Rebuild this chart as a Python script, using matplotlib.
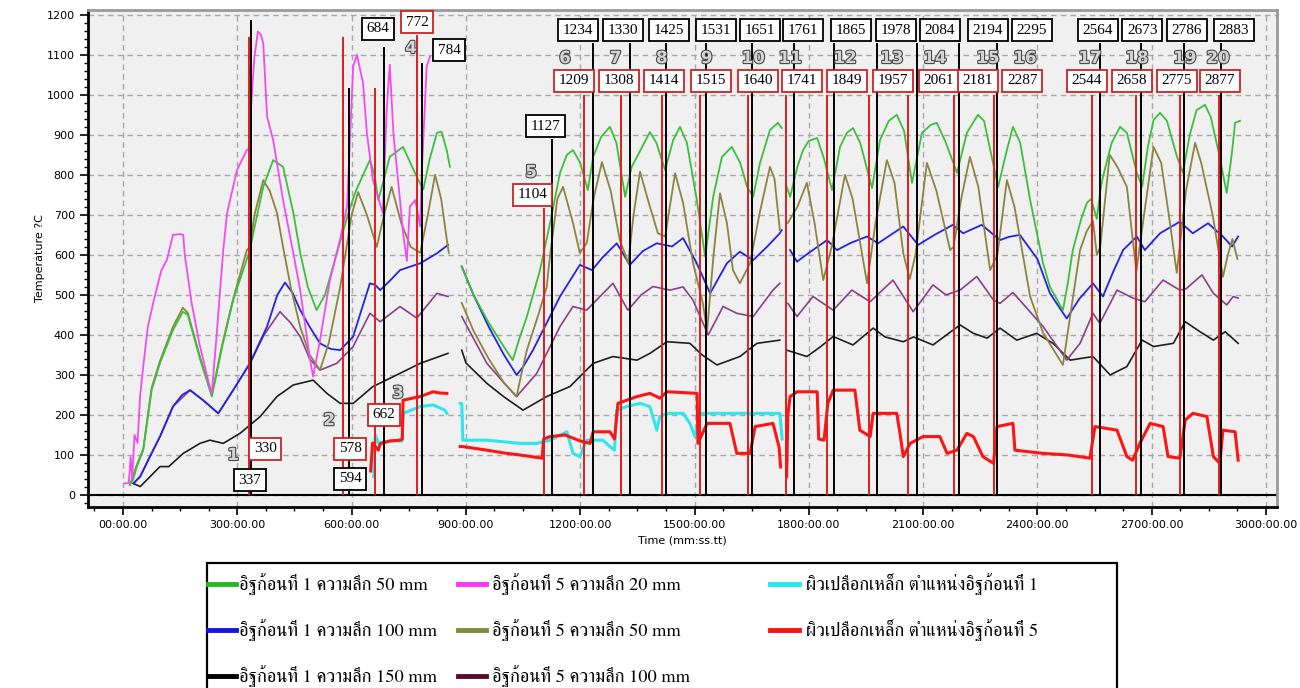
import numpy as np
import matplotlib
matplotlib.use("Agg")
import matplotlib.pyplot as plt
import matplotlib.patheffects as pe
from matplotlib import font_manager, ft2font
from matplotlib.lines import Line2D
from matplotlib.patches import Rectangle
from matplotlib.ticker import MultipleLocator

nan = np.nan

# ---------------- logged temperatures (time in s, temperature in °C) -------
# NaN separates the logging sessions.
green_t = [18, 27, 36, 53, 75, 97, 131, 157, 170, 202, 233, 260, 289, 333, 342, 368, 394, 420, 447, 465, 485,
           508, 530, 560, 590, 609, 630, 648, 660, 670, 685, 700, 735, 771, 788, 805, 824, 836, 850, 858, nan,
           889, 920, 960, 1000, 1023, 1040, 1060, 1094, 1121, 1147, 1165, 1181, 1200, 1220, 1234, 1255, 1278,
           1295, 1318, 1335, 1349, 1383, 1400, 1423, 1444, 1462, 1480, 1506, 1528, 1549, 1572, 1598, 1620,
           1638, 1654, 1672, 1698, 1719, 1729, nan,
           1742, 1751, 1770, 1785, 1800, 1822, 1840, 1861, 1882, 1900, 1916, 1935, 1966, 1987, 2010, 2031,
           2050, 2071, 2097, 2120, 2136, 2160, 2189, 2215, 2244, 2260, 2297, 2320, 2336, 2355, 2381, 2415,
           2433, 2467, 2480, 2493, 2515, 2530, 2541, 2556, 2565, 2572, 2595, 2617, 2635, 2661, 2675,
           2690, 2705, 2722, 2740, 2765, 2782, 2800, 2818, 2840, 2855, 2875, 2897, 2910, 2919, 2932]
green_v = [25, 40, 71, 112, 262, 330, 412, 458, 450, 340, 246, 370, 487, 612, 655, 770, 837, 820, 705, 605, 520,
           462, 500, 600, 700, 755, 800, 837, 800, 737, 790, 845, 870, 795, 763, 840, 905, 908, 860, 820, nan,
           571, 500, 430, 370, 337, 390, 446, 560, 680, 805, 850, 862, 830, 762, 845, 895, 920,
           880, 745, 820, 845, 907, 880, 812, 887, 920, 880, 737, 596, 745, 845, 870, 830,
           770, 745, 830, 912, 930, 917, nan,
           770, 745, 820, 862, 885, 892, 840, 762, 870, 905, 917, 880, 767, 887, 935, 950,
           910, 780, 905, 925, 930, 880, 805, 905, 950, 935, 770, 862, 920, 880, 737, 579,
           520, 462, 530, 612, 690, 730, 740, 690, 760, 795, 880, 920, 905, 805, 770,
           870, 937, 955, 935, 850, 805, 900, 962, 975, 945, 860, 755, 850, 930, 935]

blue_t = [27, 45, 70, 97, 131, 155, 176, 210, 250, 289, 333, 378, 405, 425, 445, 465, 490, 517, 545, 570, 604,
          625, 648, 662, 675, 700, 727, 780, 824, 853, nan,
          889, 920, 960, 1000, 1033, 1050, 1076, 1129, 1147, 1199, 1231, 1260, 1296, 1330, 1365, 1401, 1441,
          1470, 1506, 1541, 1585, 1619, 1654, 1690, 1724, 1729, nan,
          1751, 1769, 1800, 1848, 1874, 1910, 1953, 1982, 2015, 2048, 2087, 2130, 2178, 2205, 2254, 2302,
          2325, 2354, 2400, 2433, 2477, 2510, 2546, 2572, 2600, 2625, 2661, 2682, 2722, 2774, 2808, 2848,
          2887, 2911, 2927]
blue_v = [29, 46, 95, 146, 221, 250, 262, 237, 204, 262, 329, 421, 500, 531, 505, 462, 420, 379, 365, 362, 396,
          460, 529, 525, 512, 535, 562, 579, 604, 625, nan,
          571, 500, 420, 350, 300, 320, 362, 462, 496, 575, 562, 595, 629, 575, 610, 629, 621,
          642, 579, 504, 579, 608, 587, 620, 654, 662, nan,
          612, 583, 605, 637, 612, 630, 646, 629, 650, 671, 625, 650, 675, 654, 675, 637,
          645, 650, 590, 504, 441, 490, 529, 496, 560, 612, 646, 612, 654, 683, 654, 679,
          646, 621, 646]

black_t = [27, 45, 70, 97, 120, 158, 202, 228, 263, 307, 360, 404, 447, 499, 535, 570, 604, 656, 727, 780, 853, nan,
           889, 900, 955, 1000, 1050, 1112, 1173, 1234, 1286, 1349, 1383, 1428, 1488, 1520, 1559, 1619, 1664,
           1724, nan,
           1742, 1795, 1830, 1864, 1916, 1969, 2000, 2048, 2075, 2126, 2197, 2232, 2268, 2302, 2346, 2398,
           2441, 2486, 2546, 2591, 2635, 2675, 2705, 2757, 2788, 2827, 2862, 2893, 2927]
black_v = [29, 21, 45, 71, 71, 104, 129, 137, 129, 154, 196, 246, 275, 287, 254, 229, 229, 271, 304, 329, 354, nan,
           362, 330, 279, 245, 212, 246, 271, 329, 346, 337, 354, 383, 379, 350, 325, 346, 379,
           387, nan,
           362, 346, 370, 396, 375, 417, 395, 383, 395, 375, 425, 404, 392, 417, 387, 404,
           379, 337, 346, 300, 321, 387, 371, 379, 433, 408, 387, 408, 379]

magenta_t = [5, 15, 20, 24, 30, 38, 45, 53, 65, 79, 100, 115, 131, 150, 158, 162, 180, 200, 225, 233, 246, 263,
             273, 299, 325, 330, 338, 345, 354, 362, 368, 378, 394, 420, 447, 465, 491, 499, 517, 543, 570,
             588, 604, 614, 630, 640, 656, 682, 692, 700, 710, 727, 735, 745, 753, 767, 780, 784, 797, 806]
magenta_v = [29, 30, 95, 40, 150, 130, 250, 321, 420, 479, 560, 587, 650, 652, 650, 600, 480, 380, 280, 254, 404,
             612, 704, 812, 862, 865, 1000, 1096, 1158, 1150, 1129, 946, 887, 737, 604, 512, 337, 296, 387,
             537, 640, 721, 1071, 1100, 1029, 904, 787, 704, 962, 1075, 900, 737, 654, 585, 721, 737, 671,
             805, 1071, 1096]

olive_t = [18, 36, 53, 75, 97, 131, 157, 170, 202, 233, 260, 289, 325, 333, 345, 368, 385, 404, 420, 440, 465,
           490, 517, 540, 570, 600, 617, 640, 666, 685, 705, 730, 755, 780, 800, 819, 835, 850, 855, nan,
           889, 920, 960, 1000, 1033, 1045, 1060, 1090, 1112, 1121, 1140, 1155, 1181, 1199, 1217, 1235, 1257,
           1280, 1304, 1326, 1340, 1357, 1380, 1404, 1423, 1449, 1470, 1496, 1522, 1533, 1550, 1567, 1585,
           1601, 1619, 1646, 1670, 1698, 1710, 1724, nan,
           1745, 1770, 1795, 1815, 1838, 1860, 1895, 1915, 1953, 1975, 2005, 2025, 2048, 2065, 2080, 2110,
           2135, 2171, 2180, 2200, 2223, 2245, 2276, 2295, 2320, 2340, 2381, 2415, 2467, 2486,
           2512, 2530, 2546, 2556, 2565, 2590, 2610, 2635, 2650, 2660, 2680, 2705, 2725, 2745, 2766, 2790,
           2814, 2830, 2860, 2887, 2900, 2912, 2925]
olive_v = [25, 75, 115, 268, 335, 420, 468, 455, 345, 250, 375, 490, 612, 620, 700, 787, 760, 705, 620, 520, 420,
           350, 312, 380, 520, 700, 757, 700, 620, 700, 770, 680, 620, 605, 700, 800, 740, 637, 605, nan,
           480, 410, 340, 280, 246, 300, 362, 450, 520, 600, 740, 770, 680, 605, 629, 740, 832,
           760, 637, 580, 700, 808, 730, 654, 646, 804, 730, 580, 479, 410, 600, 754, 680,
           562, 529, 579, 700, 820, 790, 662, nan,
           680, 720, 780, 680, 537, 620, 800, 740, 529, 680, 837, 780, 604, 540, 600, 830,
           760, 612, 620, 740, 845, 770, 562, 600, 787, 720, 496, 405, 325, 446,
           612, 660, 685, 600, 620, 850, 820, 770, 640, 560, 700, 870, 830, 700, 555, 760,
           880, 830, 700, 545, 600, 640, 590]

purple_t = [27, 45, 70, 97, 131, 176, 210, 250, 289, 333, 370, 412, 440, 465, 490, 517, 561, 604, 648, 675, 727,
            771, 824, 853, nan,
            889, 955, 1000, 1033, 1086, 1147, 1181, 1217, 1260, 1286, 1325, 1360, 1391, 1436, 1470, 1496, 1536,
            1575, 1611, 1654, 1706, 1724, nan,
            1745, 1769, 1811, 1864, 1913, 1961, 2021, 2074, 2126, 2160, 2197, 2241, 2285, 2302, 2336, 2415,
            2477, 2512, 2546, 2564, 2609, 2651, 2682, 2730, 2774, 2790, 2832, 2862, 2897, 2914, 2927]
purple_v = [29, 46, 95, 146, 221, 262, 237, 204, 262, 329, 400, 458, 430, 396, 340, 312, 329, 371, 454, 433, 471,
            442, 504, 496, nan,
            446, 329, 280, 246, 304, 421, 471, 462, 504, 529, 462, 500, 521, 512, 520, 487, 400,
            471, 454, 446, 512, 529, nan,
            479, 446, 496, 462, 512, 483, 537, 458, 525, 500, 512, 546, 487, 479, 506, 421,
            337, 379, 454, 429, 512, 492, 483, 537, 512, 515, 550, 504, 475, 496, 492]

cyan_t = [658, 662, 670, 700, 733, 735, 780, 814, 845, 850, nan,
          885, 889, 892, 955, 1042, 1086, 1121, 1165, 1181, 1199, 1217, 1260, 1278, 1290, 1296, 1322, 1357,
          1383, 1401, 1409, 1428, 1470, 1488, 1501, 1514, 1575, 1650, 1724, 1730]
cyan_v = [46, 150, 130, 135, 135, 204, 221, 225, 212, 204, nan,
          229, 229, 137, 137, 129, 129, 137, 158, 104, 96, 137, 137, 121, 112, 212, 221, 229,
          221, 162, 196, 204, 204, 179, 146, 204, 204, 204, 204, 140]

red_t = [650, 655, 670, 675, 700, 727, 733, 735, 750, 780, 814, 830, 850, nan,
         885, 892, 955, 1000, 1042, 1100, 1104, 1121, 1160, 1200, 1226, 1234, 1278, 1290, 1299, 1349, 1383,
         1409, 1428, 1507, 1509, 1533, 1593, 1611, 1646, 1659, 1706, 1722, 1726, nan,
         1742, 1745, 1751, 1769, 1822, 1826, 1840, 1850, 1864, 1921, 1934, 1961, 1969, 2031, 2040, 2048,
         2066, 2100, 2144, 2163, 2189, 2215, 2232, 2257, 2285, 2294, 2336, 2341, 2415, 2480, 2538, 2551,
         2609, 2635, 2650, 2669, 2696, 2730, 2743, 2774, 2788, 2808, 2845, 2862, 2879, 2887, 2919, 2927]
red_v = [60, 130, 112, 128, 135, 137, 140, 237, 240, 246, 258, 255, 254, nan,
         121, 121, 112, 105, 100, 92, 140, 146, 150, 135, 129, 158, 158, 140, 229, 246, 254,
         242, 258, 254, 129, 179, 179, 104, 104, 171, 179, 120, 70, nan,
         46, 200, 246, 258, 258, 140, 137, 229, 262, 262, 162, 146, 204, 204, 150, 96,
         129, 146, 146, 104, 112, 154, 146, 96, 79, 171, 179, 112, 104, 100, 92, 171,
         162, 96, 87, 129, 179, 171, 96, 92, 187, 204, 196, 96, 79, 162, 158, 87]

# ---------------- event markers (s) -----------------------------------------
red_marks = [330, 578, 662, 772, 1104, 1209, 1308, 1414, 1515, 1640, 1741, 1849, 1957, 2061, 2181,
             2287, 2544, 2658, 2775, 2877]
black_marks = [337, 594, 684, 784, 1127, 1234, 1330, 1425, 1531, 1651, 1761, 1865, 1978, 2084, 2194,
               2295, 2564, 2673, 2786, 2883]
cycle_labels = [str(i) for i in range(1, 21)]

legend_labels = [
    "อิฐก้อนที่ 1 ความลึก 50 mm",
    "อิฐก้อนที่ 1 ความลึก 100 mm",
    "อิฐก้อนที่ 1 ความลึก 150 mm",
    "อิฐก้อนที่ 5 ความลึก 20 mm",
    "อิฐก้อนที่ 5 ความลึก 50 mm",
    "อิฐก้อนที่ 5 ความลึก 100 mm",
    "ผิวเปลือกเหล็ก ตำแหน่งอิฐก้อนที่ 1",
    "ผิวเปลือกเหล็ก ตำแหน่งอิฐก้อนที่ 5",
]
x_tick_values = list(range(0, 3001, 300))
x_tick_labels = ["00:00.00"] + [f"{v}:00.00" for v in x_tick_values[1:]]

# ---------------- layout of marker lines and their tags ----------------------
red_tops = [1145, 1145, 1017, 1150, 717] + [1000] * 15
black_tops = [1187, 1017, 1120, 1080, 890] + [1130] * 15
red_tag_pos = [(373, 115), (596, 115), (685, 200), (772, 1182), (1076, 750)] + \
    [(x, 1035) for x in [1184, 1302, 1420, 1543, 1667, 1782, 1900, 2021, 2142, 2244, 2360, 2530,
                         2648, 2766, 2879]]
black_tag_pos = [(333, 37), (596, 40), (669, 1165), (856, 1112), (1108, 922)] + \
    [(x, 1162) for x in [1194, 1312, 1433, 1556, 1672, 1785, 1911, 2029, 2144, 2270, 2386, 2559,
                         2675, 2793, 2916]]
cycle_pos = [(289, 100), (541, 187), (722, 255), (756, 1117), (1071, 807)] + \
    [(x, 1092) for x in [1160, 1293, 1414, 1532, 1654, 1751, 1895, 2018, 2131, 2270, 2367, 2538,
                         2661, 2787, 2874]]


def thai_family():
    """Name of an installed font covering Thai, preferring a serif design."""
    found = []
    for fe in font_manager.fontManager.ttflist:
        try:
            cmap = ft2font.FT2Font(fe.fname).get_charmap()
        except Exception:
            continue
        if 0x0E2D in cmap and 0x0E34 in cmap and 0x0E49 in cmap:
            found.append(fe.name)
    if not found:
        return None
    serif = [n for n in found if "Serif" in n or "Norasi" in n or "Sarabun" in n]
    return (serif or found)[0]


thai = thai_family()
legend_family = ([thai] if thai else []) + ["Liberation Serif", "DejaVu Sans"]

W, H = 1300, 688
fig = plt.figure(figsize=(W / 100, H / 100), dpi=100)
fig.patch.set_facecolor("white")
ax = fig.add_axes([88 / W, 1 - 507 / H, (1277 - 88) / W, (507 - 10) / H])
ax.set_facecolor("#f0f0f0")
ax.set_xlim(-92, 3029)
ax.set_ylim(-30, 1212)

# grid and ticks
ax.set_xticks(x_tick_values, x_tick_labels)
ax.xaxis.set_minor_locator(MultipleLocator(75))
ax.set_yticks(range(0, 1201, 100))
ax.yaxis.set_minor_locator(MultipleLocator(20))
ax.grid(True, which="major", color="#a8a8a8", linestyle=(0, (4, 3)), linewidth=1.0)
ax.set_axisbelow(True)
ax.tick_params(axis="both", which="major", length=6, width=1.2, labelsize=8, colors="black",
               direction="out")
ax.tick_params(axis="both", which="minor", length=3, width=1.0, direction="out")
for side in ("left", "bottom"):
    ax.spines[side].set_linewidth(2)
    ax.spines[side].set_color("black")
for side in ("top", "right"):
    ax.spines[side].set_linewidth(2)
    ax.spines[side].set_color("#9a9a9a")
ax.axhline(0, color="black", linewidth=1.5, zorder=2)

ax.set_xlabel("Time (mm:ss.tt)", fontsize=8, labelpad=4)
ax.set_ylabel("Temperature ?C", fontsize=8, labelpad=1)

# temperature curves
series = [
    (cyan_t, cyan_v, "#2ee6ee", 2.2),
    (red_t, red_v, "#ff1414", 2.2),
    (black_t, black_v, "#202020", 1.2),
    (purple_t, purple_v, "#8a3f8a", 1.2),
    (blue_t, blue_v, "#2424dd", 1.3),
    (olive_t, olive_v, "#8c8440", 1.3),
    (green_t, green_v, "#3cbf3c", 1.3),
    (magenta_t, magenta_v, "#f04cf0", 1.3),
]
for t, v, c, lw in series:
    ax.plot(t, v, color=c, linewidth=lw, zorder=3)

# event lines with value tags
tag_font = dict(family="Liberation Serif", fontsize=11)
for x, top, (tx, ty) in zip(red_marks, red_tops, red_tag_pos):
    ax.vlines(x, 0, top, color="#dd1f1f", linewidth=1.4, zorder=4)
    ax.text(tx, ty, str(x), ha="center", va="center", zorder=6, **tag_font,
            bbox=dict(boxstyle="square,pad=0.3", facecolor="white", edgecolor="#cc2222", linewidth=1.3))
for x, top, (tx, ty) in zip(black_marks, black_tops, black_tag_pos):
    ax.vlines(x, 0, top, color="black", linewidth=1.4, zorder=4)
    ax.text(tx, ty, str(x), ha="center", va="center", zorder=6, **tag_font,
            bbox=dict(boxstyle="square,pad=0.3", facecolor="white", edgecolor="black", linewidth=1.3))

outline = [pe.Stroke(linewidth=1.6, foreground="#4a4a4a"), pe.Normal()]
for lab, (cx, cy) in zip(cycle_labels, cycle_pos):
    ax.text(cx, cy, lab, ha="center", va="center", fontsize=12, fontweight="bold",
            color="#d4d4d4", zorder=7, path_effects=outline)

# legend panel
fig.add_artist(Rectangle((207 / W, 1 - 700 / H), (1117 - 207) / W, (700 - 563) / H,
                         transform=fig.transFigure, facecolor="white", edgecolor="black",
                         linewidth=1.6, zorder=1))
legend_colors = ["#22bb22", "#1414e6", "#000000", "#ff33ff", "#7f8c3c", "#5c0a30", "#22eaf0", "#ff1010"]
col_handles = [(208, 236, 239), (458, 486, 492), (770, 799, 806)]
rows_y = [584, 630, 676]
for i, (lab, col) in enumerate(zip(legend_labels, legend_colors)):
    c, r = divmod(i, 3)
    x0, x1, xt = col_handles[c]
    yy = 1 - rows_y[r] / H
    fig.add_artist(Line2D([x0 / W, x1 / W], [yy, yy], transform=fig.transFigure,
                          color=col, linewidth=3.5, zorder=2))
    fig.text(xt / W, yy, lab, ha="left", va="center", fontsize=13.2, family=legend_family, zorder=3)

fig.savefig("out.png", dpi=100)
